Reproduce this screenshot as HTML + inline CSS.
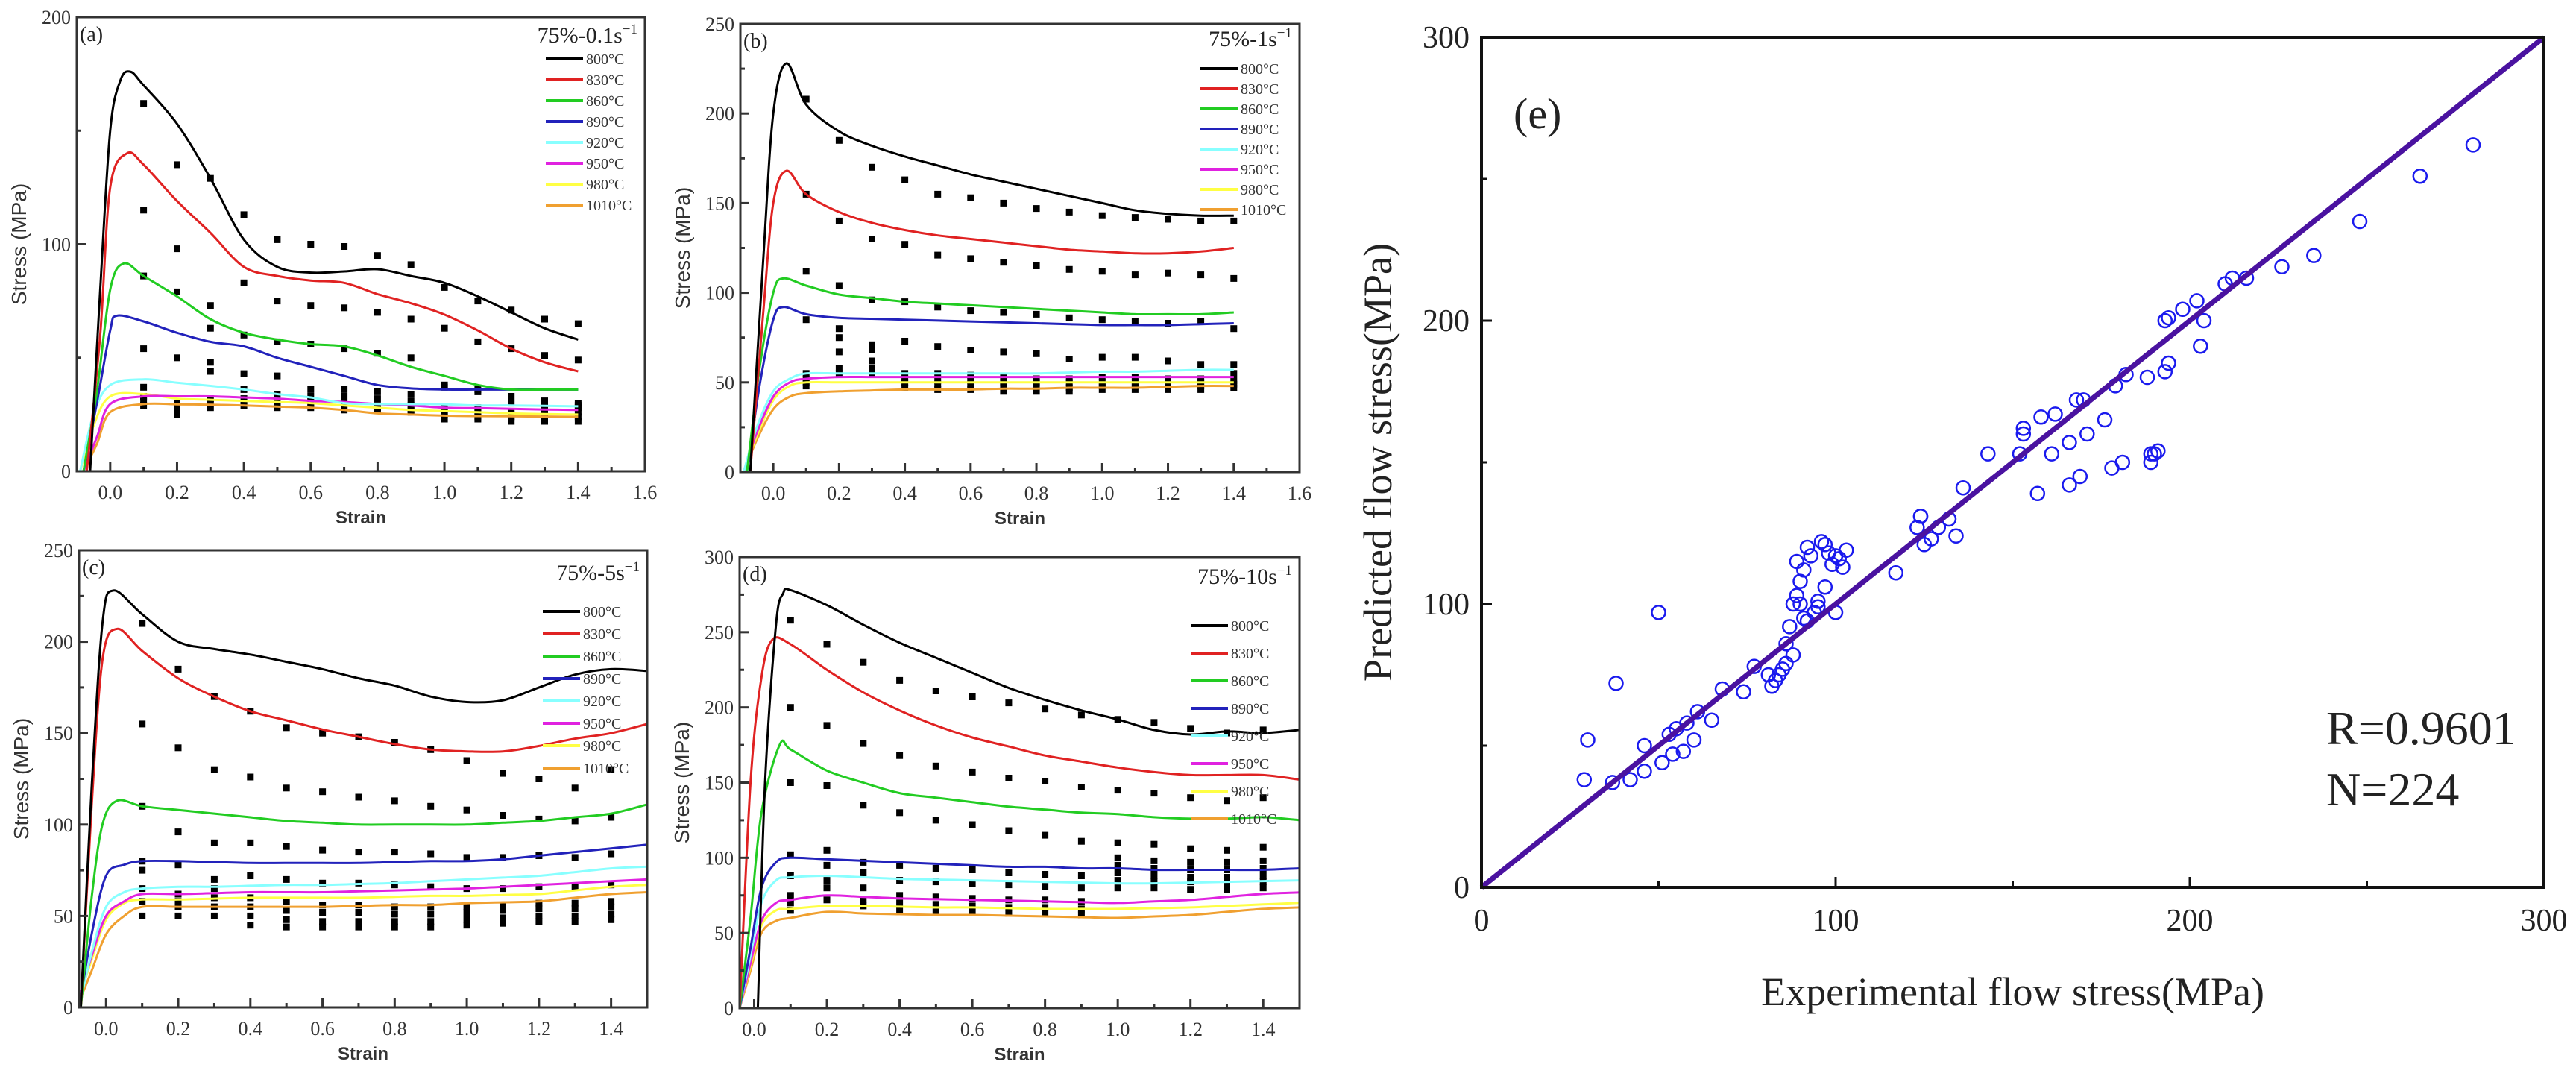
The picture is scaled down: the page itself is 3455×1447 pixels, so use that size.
<!DOCTYPE html>
<html><head><meta charset="utf-8"><style>
html,body{margin:0;padding:0;background:#fff;}
svg{display:block;}
</style></head><body>
<svg id="fig" xmlns="http://www.w3.org/2000/svg" width="3455" height="1447" viewBox="0 0 3455 1447"></svg>
<script>
// ---------- data ----------
const temps = ["800°C","830°C","860°C","890°C","920°C","950°C","980°C","1010°C"];
const tempColors = ["#000000","#e02222","#22cc22","#2222bb","#88ffff","#e022e0","#ffff44","#f0a030"];
const gridA = [0.1,0.2,0.3,0.4,0.5,0.6,0.7,0.8,0.9,1.0,1.1,1.2,1.3,1.4];
const gridC = [0.1,0.2,0.3,0.4,0.5,0.6,0.7,0.8,0.9,1.0,1.1,1.2,1.3,1.4,1.5];

const aHeadX = [[-0.06,-0.03,0.0,0.03,0.06],[-0.07,-0.03,0.0,0.05],[-0.08,-0.04,0.0,0.04],[-0.08,-0.04,0.0,0.02],[-0.09,-0.05,0.0],[-0.08,-0.04,0.0],[-0.09,-0.05,0.0],[-0.08,-0.04,0.0]];
const aCurveY = [
 [0,80,150,172,176,170,153,129,102,90,87.5,88,89,86,83,77,70,63,58],
 [0,60,125,140,135,119,105,90,86,84,83,78,74,69,62,54,48,44],
 [0,35,80,91.5,86,77,67,61,58,56,55,51,46,42,38,36,36,36],
 [0,30,62,68.5,66,61,57,55,50,46,42,38,36.5,36,36,36,36,36],
 [0,25,38,40.5,39,37.6,36,34,32.5,30,29.6,29.6,29.5,29,29,28.8,28.6],
 [0,15,29.6,33,33,33,32.5,32,31,30.5,29.6,29,28,27.8,27.5,27.2,27],
 [0,20,33,34,32,31.5,31,30.5,30,29,28,27,26.5,26,25.5,25.2,25],
 [0,12,26,29.6,29.5,29.3,29,28.5,28,27,25.5,25,24.5,24.3,24.2,24.1,24]];
const aExp = [
 [162,135,129,113,102,100,99,95,91,81,75,71,67,65],
 [115,98,73,83,75,73,72,70,67,63,57,54,51,49],
 [86,79,63,60,57,56,54,52,50,38,36,33,31,30],
 [54,50,48,43,42,36,36,35,34,37,35,30,29,29],
 [37,30,44,36,34,33,33,32,31,28,28,26,29,28],
 [33,28,32,32,31,31,30,29,29,26,26,25,26,26],
 [31,27,30,30,29,29,28,28,27,25,24,24,24,24],
 [29,25,28,29,28,28,27,27,26,23,23,22,22,22]];

const bHeadX = [[-0.07,-0.03,0.0,0.04],[-0.07,-0.03,0.0,0.04],[-0.08,-0.04,0.0,0.03],[-0.08,-0.04,0.0,0.03],[-0.09,-0.05,0.0,0.05],[-0.09,-0.05,0.0,0.05],[-0.09,-0.05,0.0,0.05],[-0.09,-0.05,0.0,0.05]];
const bCurveY = [
 [0,120,200,228,205,190,182,176,171,166,162,158,154,150,146,144,143,143],
 [0,90,150,168,155,145,139,135,132,130,128,126,124,123,122,122,123,125],
 [0,60,100,108,104,99,97,95,94,93,92,91,90,89,88,88,88,89],
 [0,50,85,92,88,86,85.5,85,84.5,84,83.5,83,82.5,82,82,82,82.5,83],
 [0,25,45,52,55,55,55,55,55,55,55,55,55.5,56,56,56.5,57,57],
 [0,22,42,50,52,53,53,53,53,53,53,53,53,53,53,53,53,53],
 [0,20,40,48,50,50,50,50,50,50,50,50,50,50,50,50,50,50],
 [0,18,35,42,44,45,45.5,46,46,46,46.5,46.5,47,47,47,47.5,48,48]];
const bExp = [
 [208,185,170,163,155,153,150,147,145,143,142,141,140,140],
 [155,140,130,127,121,119,117,115,113,112,110,111,110,108],
 [112,104,96,95,92,90,89,88,86,85,84,83,84,80],
 [85,80,71,73,70,68,67,66,63,64,64,62,60,60],
 [55,75,68,55,55,54,53,52,52,53,53,52,52,55],
 [52,67,62,52,51,51,50,50,50,50,50,50,50,51],
 [50,58,58,50,49,49,48,48,47,48,48,48,48,49],
 [48,55,55,47,46,46,45,45,45,46,46,46,46,47]];

const cHeadX = [[-0.07,-0.04,-0.01,0.02],[-0.07,-0.04,-0.01,0.03],[-0.07,-0.04,-0.01,0.03],[-0.075,-0.04,0.0,0.05],[-0.075,-0.04,0.0,0.05],[-0.075,-0.04,0.0,0.05],[-0.075,-0.04,0.0,0.05],[-0.075,-0.04,0.0,0.05]];
const cCurveY = [
 [0,120,210,228,215,200,196,193,189,185,180,176,170,167,168,175,182,185,184],
 [0,110,190,207,195,180,170,162,157,152,148,144,141,140,140,143,147,150,155],
 [0,60,100,113,110,108,106,104,102,101,100,100,100,100,101,102,104,106,111],
 [0,40,72,78,80,80,79.5,79,79,79,79,79.5,80,80,81,83,85,87,89],
 [0,30,55,63,65,66,66,66.5,67,67,67.5,68,69,70,71,72,74,76,77],
 [5,28,50,58,62,62,62.5,63,63,63,63.5,64,64.5,65,66,67,68,69,70],
 [5,26,48,57,59,59,59.5,60,60,60,60,60.5,61,61,61.5,62,64,66,67],
 [3,20,40,50,55,55,55,55,55,55,55.5,56,56,57,57.5,58,60,62,63]];
const cExp = [
 [210,185,170,162,153,150,148,145,141,135,128,125,120,130],
 [155,142,130,126,120,118,115,113,110,108,105,103,102,104],
 [110,96,90,90,88,86,85,85,84,82,82,83,82,84],
 [80,78,70,72,70,68,68,67,66,65,65,66,66,67],
 [75,62,65,60,58,56,56,55,55,55,56,57,57,58],
 [65,58,60,55,53,52,52,51,51,52,53,54,54,55],
 [58,55,55,50,48,47,47,47,47,48,49,50,50,51],
 [50,50,50,45,44,44,44,44,44,45,46,47,47,48]];

const dHeadX = [[0.01,0.03,0.06,0.08],[-0.04,-0.01,0.02,0.05],[-0.04,-0.01,0.02,0.07],[-0.04,-0.01,0.02,0.06],[-0.04,-0.01,0.02,0.06],[-0.04,-0.01,0.02,0.06],[-0.04,-0.01,0.02,0.06],[-0.04,-0.01,0.02,0.06]];
const dCurveY = [
 [0,150,255,276,278,268,255,243,233,223,213,205,198,192,185,182,184,183,185],
 [0,150,220,245,242,225,210,198,188,180,174,168,164,160,157,155,155,155,152],
 [0,60,130,175,172,158,150,143,140,137,134,132,130,129,127,126,126,127,125],
 [0,40,80,97,100,99,98,97,96,95,94,94,93,93,92,92,92,92,93],
 [0,35,70,85,87,88,87,86,85.5,85,84.5,84,83.5,83,83,83.5,84,84.5,85],
 [0,30,58,70,72,75,74,73,72.5,72,71.5,71,70.5,70,71,72,74,76,77],
 [0,28,55,65,66,68,68,67.5,67,67,66.5,66,66,66,66.5,67,68,69,70],
 [0,25,50,58,60,64,63,62.5,62,62,61.5,61,60.5,60,61,62,64,66,67]];
const dExp = [
 [258,242,230,218,211,207,203,199,195,192,190,186,183,185],
 [200,188,176,168,161,157,153,151,147,145,143,140,138,140],
 [150,148,135,130,125,122,118,115,111,110,109,106,105,107],
 [102,105,97,95,93,92,90,89,88,100,98,97,97,98],
 [88,95,90,85,84,83,82,81,80,95,93,92,92,93],
 [75,85,80,75,74,73,72,72,71,90,88,87,87,88],
 [70,80,72,70,69,68,67,67,66,85,84,84,83,84],
 [65,72,68,65,64,64,63,63,62,80,80,79,79,80]];

const eExpVals = [29,30,37,38,42,46,46,50,51,53,54,55,57,58,60,61,65,68,74,77,81,82,83,84,85,86,86,87,88,88,89,89,90,90,91,91,92,92,93,94,95,95,96,97,97,98,99,100,100,101,102,103,117,123,124,124,125,127,129,132,134,136,143,152,153,153,157,158,161,162,166,166,168,169,170,171,176,178,179,181,182,188,189,189,190,191,193,193,194,194,198,202,203,204,210,212,216,226,235,248,265,280];
const ePredVals = [38,52,37,72,38,50,41,97,44,54,47,56,48,58,52,62,59,70,69,78,75,71,73,75,77,79,86,92,82,100,103,115,108,100,95,112,120,94,117,97,99,101,122,121,106,118,114,117,97,116,113,119,111,127,131,131,121,123,127,130,124,141,153,153,162,160,139,166,153,167,142,157,172,145,172,160,165,148,177,150,181,180,150,153,153,154,182,200,201,185,204,207,191,200,213,215,215,219,223,235,251,262];

// ---------- drawing ----------
const NS = "http://www.w3.org/2000/svg";
const svg = document.getElementById("fig");
function mk(tag, attrs, parent){ const e=document.createElementNS(NS,tag); for(const k in attrs) e.setAttribute(k,attrs[k]); (parent||svg).appendChild(e); return e; }
function smoothPath(pts){
  let d = "M"+pts[0][0].toFixed(1)+","+pts[0][1].toFixed(1);
  for(let i=0;i<pts.length-1;i++){
    const p0=pts[Math.max(0,i-1)],p1=pts[i],p2=pts[i+1],p3=pts[Math.min(pts.length-1,i+2)];
    const c1x=p1[0]+(p2[0]-p0[0])/6,c1y=p1[1]+(p2[1]-p0[1])/6;
    const c2x=p2[0]-(p3[0]-p1[0])/6,c2y=p2[1]-(p3[1]-p1[1])/6;
    d+=" C"+c1x.toFixed(1)+","+c1y.toFixed(1)+" "+c2x.toFixed(1)+","+c2y.toFixed(1)+" "+p2[0].toFixed(1)+","+p2[1].toFixed(1);
  }
  return d;
}
const SERIF='"Liberation Serif", serif', SANS='"Liberation Sans", sans-serif';

function panel(cfg){
  const g = mk("g",{});
  
  
  const sx = v => cfg.x0 + (v-cfg.xd[0])/(cfg.xd[1]-cfg.xd[0])*(cfg.x1-cfg.x0);
  const sy = v => cfg.y1 - (v-cfg.yd[0])/(cfg.yd[1]-cfg.yd[0])*(cfg.y1-cfg.y0);
  const eg = mk("g",{fill:"#000"},g);
  
  
  cfg.exp.forEach(arr=>arr.forEach((v,i)=>{
    const r = mk("rect",{x:(sx(gridA[i])-4.5).toFixed(1),y:(sy(v)-4.5).toFixed(1),width:9,height:9},eg);
    
    
  }));
  for(let t=7;t>=0;t--){
    const xs = cfg.headX[t].concat(cfg.grid);
    const pts = xs.map((x,i)=>[sx(x),sy(cfg.curveY[t][i])]);
    const p = mk("path",{d:smoothPath(pts),fill:"none",stroke:tempColors[t],"stroke-width":3,"stroke-linejoin":"round"},g);
    
    
  }
  const fr = mk("rect",{x:cfg.x0,y:cfg.y0,width:cfg.x1-cfg.x0,height:cfg.y1-cfg.y0,fill:"none",stroke:"#333","stroke-width":3},g);
  
  
  for(let k=0;k<=16;k++){
    const v=k/10; if(v<cfg.xd[0]||v>cfg.xd[1]+1e-9) continue;
    const X=sx(v), major=(k%2===0);
    mk("line",{x1:X,x2:X,y1:cfg.y1,y2:cfg.y1-(major?12:6),stroke:"#333","stroke-width":3},g);
    if(major && v<cfg.xd[1]-0.05 || (major && cfg.lastLabel)){
      const tx=mk("text",{x:X,y:cfg.y1+37,"font-family":SERIF,"font-size":26,"text-anchor":"middle",fill:"#333"},g);
      tx.textContent=v.toFixed(1);
      
      
    }
  }
  for(let v=cfg.yd[0]; v<=cfg.yd[1]; v+=cfg.yMinor){
    const Y=sy(v), major=(Math.round(v)%cfg.yMajor===0);
    mk("line",{x1:cfg.x0,x2:cfg.x0+(major?12:6),y1:Y,y2:Y,stroke:"#333","stroke-width":3},g);
    if(major){
      const ty=mk("text",{x:cfg.x0-8,y:Y+9,"font-family":SERIF,"font-size":26,"text-anchor":"end",fill:"#333"},g);
      ty.textContent=String(v);
      
      
    }
  }
  const lb=mk("text",{x:cfg.x0+4,y:cfg.y0+32,"font-family":SERIF,"font-size":28,fill:"#222"},g);
  lb.textContent="("+cfg.id+")";
  
  
  const xt=mk("text",{x:(cfg.x0+cfg.x1)/2,y:cfg.y1+70,"font-family":SANS,"font-size":24,"font-weight":"bold","text-anchor":"middle",fill:"#333"},g);
  xt.textContent="Strain";
  
  
  const cy=(cfg.y0+cfg.y1)/2, tx0=cfg.x0-68;
  const yt=mk("text",{x:tx0,y:cy,"font-family":SANS,"font-size":28,"text-anchor":"middle",fill:"#333",transform:"rotate(-90 "+tx0+" "+cy+")"},g);
  yt.textContent="Stress (MPa)";
  
  
  const lg=mk("g",{},g);
  
  
  const tt=mk("text",{x:cfg.x1-10,y:cfg.y0+cfg.titleDy,"font-family":SERIF,"font-size":30,"text-anchor":"end",fill:"#222"},lg);
  tt.innerHTML=cfg.title+'<tspan dy="-12" font-size="19">−1</tspan>';
  
  
  temps.forEach((t,i)=>{
    const Y=cfg.y0+cfg.legDy+i*cfg.legStep;
    const ln=mk("line",{x1:cfg.x1-cfg.legOff,x2:cfg.x1-cfg.legOff+50,y1:Y,y2:Y,stroke:tempColors[i],"stroke-width":4},lg);
    
    
    const tx=mk("text",{x:cfg.x1-cfg.legOff+54,y:Y+7,"font-family":SERIF,"font-size":20,fill:"#333"},lg);
    tx.textContent=t;
    
    
  });
}

panel({id:"a",x0:103,x1:865,y0:23,y1:632,xd:[-0.1,1.6],yd:[0,200],yMajor:100,yMinor:50,headX:aHeadX,curveY:aCurveY,exp:aExp,grid:gridA,title:"75%-0.1s",titleDy:34,legDy:56,legStep:28,legOff:133,lastLabel:true});
panel({id:"b",x0:993,x1:1743,y0:32,y1:633,xd:[-0.1,1.6],yd:[0,250],yMajor:50,yMinor:25,headX:bHeadX,curveY:bCurveY,exp:bExp,grid:gridA,title:"75%-1s",titleDy:30,legDy:60,legStep:27,legOff:133,lastLabel:true});
panel({id:"c",x0:106,x1:868,y0:738,y1:1351,xd:[-0.075,1.5],yd:[0,250],yMajor:50,yMinor:25,headX:cHeadX,curveY:cCurveY,exp:cExp,grid:gridC,title:"75%-5s",titleDy:40,legDy:82,legStep:30,legOff:140,lastLabel:false});
panel({id:"d",x0:992,x1:1743,y0:747,y1:1352,xd:[-0.04,1.5],yd:[0,300],yMajor:50,yMinor:25,headX:dHeadX,curveY:dCurveY,exp:dExp,grid:gridC,title:"75%-10s",titleDy:36,legDy:92,legStep:37,legOff:146,lastLabel:false});

// ---------- panel e ----------
(function(){
  const x0=1987,x1=3412,y0=50,y1=1190;
  const sx=v=>x0+v/300*(x1-x0), sy=v=>y1-v/300*(y1-y0);
  const g=mk("g",{});
  
  
  const pg=mk("g",{fill:"none",stroke:"#1a1aee","stroke-width":2.5},g);
  
  
  eExpVals.forEach((v,i)=>{
    const c=mk("circle",{cx:sx(v).toFixed(1),cy:sy(ePredVals[i]).toFixed(1),r:9},pg);
    
    
  });
  const fl=mk("line",{x1:sx(0),y1:sy(0),x2:sx(300),y2:sy(300),stroke:"#4a12a0","stroke-width":7},g);
  
  
  const fr=mk("rect",{x:x0,y:y0,width:x1-x0,height:y1-y0,fill:"none",stroke:"#111","stroke-width":4},g);
  
  
  for(let v=0;v<=300;v+=50){
    const major=v%100===0;
    mk("line",{x1:sx(v),x2:sx(v),y1:y1,y2:y1-(major?14:8),stroke:"#111","stroke-width":3},g);
    mk("line",{x1:x0,x2:x0+(major?14:8),y1:sy(v),y2:sy(v),stroke:"#111","stroke-width":3},g);
    if(major){
      const tx=mk("text",{x:sx(v),y:y1+58,"font-family":SERIF,"font-size":42,"text-anchor":"middle",fill:"#222"},g);
      tx.textContent=String(v);
      
      
      const ty=mk("text",{x:x0-16,y:sy(v)+14,"font-family":SERIF,"font-size":42,"text-anchor":"end",fill:"#222"},g);
      ty.textContent=String(v);
      
      
    }
  }
  const xt=mk("text",{x:(x0+x1)/2,y:1348,"font-family":SERIF,"font-size":54,"text-anchor":"middle",fill:"#222"},g);
  xt.textContent="Experimental flow stress(MPa)";
  
  
  const cy=(y0+y1)/2;
  const yt=mk("text",{x:1866,y:cy,"font-family":SERIF,"font-size":54,"text-anchor":"middle",fill:"#222",transform:"rotate(-90 1866 "+cy+")"},g);
  yt.textContent="Predicted flow stress(MPa)";
  
  
  const lb=mk("text",{x:2030,y:172,"font-family":SERIF,"font-size":58,fill:"#222"},g);
  lb.textContent="(e)";
  
  
  const r=mk("text",{x:3120,y:998,"font-family":SERIF,"font-size":64,fill:"#222"},g);
  r.textContent="R=0.9601";
  
  
  const n=mk("text",{x:3120,y:1080,"font-family":SERIF,"font-size":64,fill:"#222"},g);
  n.textContent="N=224";
  
  
})();
</script>
</body></html>
